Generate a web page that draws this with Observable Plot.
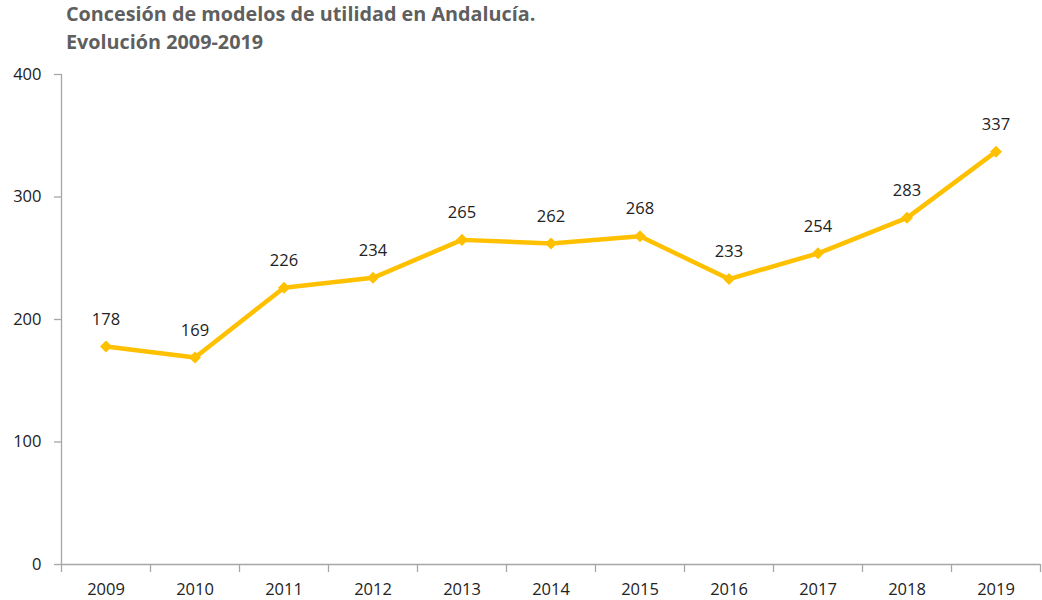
<!DOCTYPE html>
<html>
<head>
<meta charset="utf-8">
<script src="https://cdn.jsdelivr.net/npm/d3@7"></script>
<script src="https://cdn.jsdelivr.net/npm/@observablehq/plot@0.6"></script>
<style>
  body { margin: 0; background: #fff; }
  #title { font-family: "Open Sans", sans-serif; font-weight: bold; font-size: 19.8px; color: #5f5f5f; line-height: 28px; padding: 0 0 0 66px; height: 60px; box-sizing: border-box; }
  #chart svg { display: block; }
</style>
</head>
<body>
<div id="title">Concesión de modelos de utilidad en Andalucía.<br>Evolución 2009-2019</div>
<div id="chart"></div>
<script>
const years = [2009, 2010, 2011, 2012, 2013, 2014, 2015, 2016, 2017, 2018, 2019];
const values = [178, 169, 226, 234, 265, 262, 268, 233, 254, 283, 337];
const yTicks = [0, 100, 200, 300, 400];

const data = years.map((year, i) => ({year, value: values[i]}));
// category boundaries between years
const boundaries = [...years.map(y => y - 0.5), years[years.length - 1] + 0.5];
const axisColor = "#a6a6a6";

const chart = Plot.plot({
  width: 1042,
  height: 540,
  marginTop: 14,
  marginBottom: 36,
  marginLeft: 61,
  marginRight: 2,
  style: {fontFamily: "Open Sans, sans-serif", fontSize: "16px", color: "#222"},
  x: {type: "linear", domain: [boundaries[0], boundaries[boundaries.length - 1]], axis: null},
  y: {type: "linear", domain: [0, 400], axis: null},
  marks: [
    Plot.ruleY([0], {stroke: axisColor, strokeWidth: 1.3, strokeOpacity: 1}),
    Plot.ruleX([boundaries[0]], {y1: 0, y2: 400, stroke: axisColor, strokeWidth: 1.3, strokeOpacity: 1}),
    Plot.ruleX(boundaries, {x: d => d, y1: 0, y2: 0, insetBottom: -8, stroke: axisColor, strokeWidth: 1.3, strokeOpacity: 1}),
    Plot.axisY({ticks: yTicks, tickSize: 7, tickPadding: 13, stroke: axisColor, strokeOpacity: 1, strokeWidth: 1.3, fontSize: 16.5, fill: "#222", label: null, tickFormat: d => d}),
    Plot.axisX({ticks: years, tickSize: 0, tickPadding: 19, fontSize: 16.5, fill: "#222", label: null, tickFormat: d => String(d)}),
    Plot.line(data, {x: "year", y: "value", stroke: "#FFC000", strokeWidth: 4.5, strokeLinejoin: "round"}),
    Plot.dot(data, {x: "year", y: "value", symbol: "square", rotate: 45, r: 4.8, fill: "#FFC000", stroke: "none"}),
    Plot.text(data, {x: "year", y: "value", text: d => String(d.value), dy: -27, fontSize: 16.5, fill: "#222"})
  ]
});
document.getElementById("chart").appendChild(chart);
</script>
</body>
</html>
